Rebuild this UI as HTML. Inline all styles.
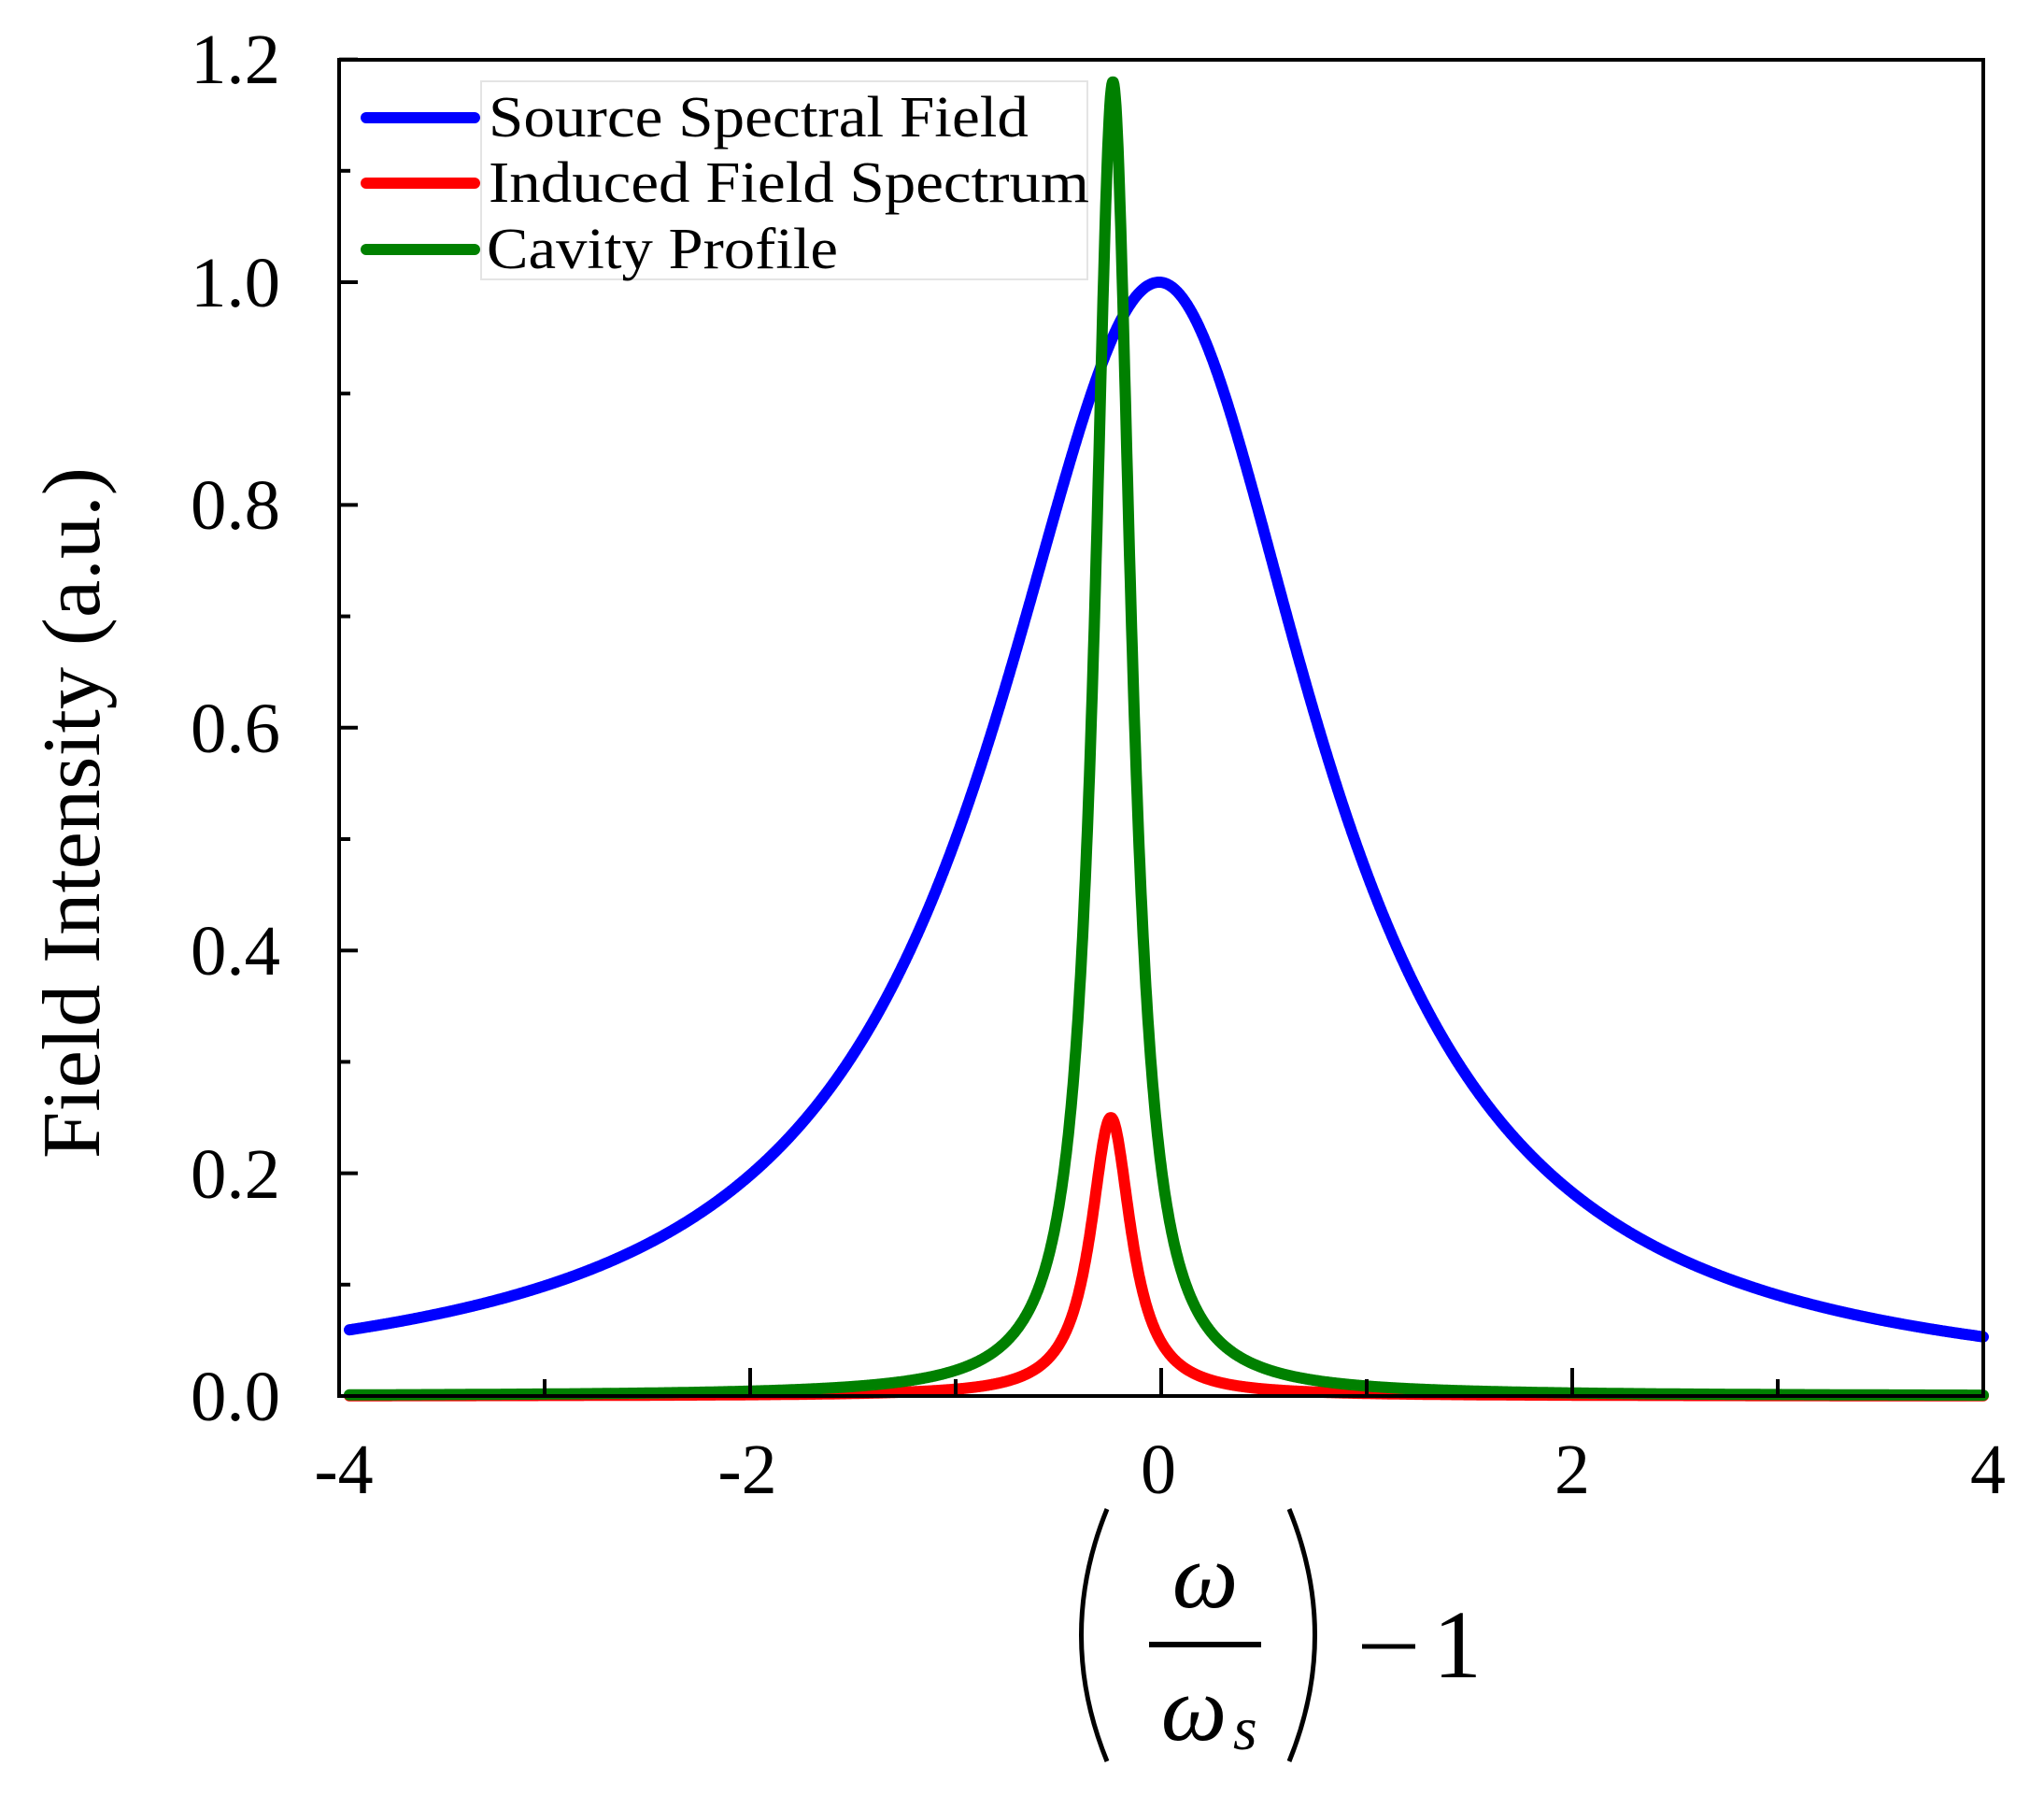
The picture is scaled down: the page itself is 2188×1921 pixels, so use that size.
<!DOCTYPE html>
<html><head><meta charset="utf-8"><style>html,body{margin:0;padding:0;background:#fff}svg{display:block}</style></head>
<body>
<svg id="s" width="2188" height="1921" viewBox="0 0 2188 1921" xmlns="http://www.w3.org/2000/svg" font-family="Liberation Serif, serif">
<g id="curves" fill="none" stroke-width="12" stroke-linejoin="round" stroke-linecap="round"></g>
<rect x="363" y="64" width="1760" height="1430" fill="none" stroke="#000" stroke-width="4"/>
<g id="ticks" stroke="#000" stroke-width="4"></g>
<g font-size="76" text-anchor="end" fill="#000">
<text x="300" y="1520" textLength="96" lengthAdjust="spacingAndGlyphs">0.0</text>
<text x="300" y="1282" textLength="96" lengthAdjust="spacingAndGlyphs">0.2</text>
<text x="300" y="1043" textLength="96" lengthAdjust="spacingAndGlyphs">0.4</text>
<text x="300" y="805" textLength="96" lengthAdjust="spacingAndGlyphs">0.6</text>
<text x="300" y="566" textLength="96" lengthAdjust="spacingAndGlyphs">0.8</text>
<text x="300" y="328" textLength="96" lengthAdjust="spacingAndGlyphs">1.0</text>
<text x="300" y="89" textLength="96" lengthAdjust="spacingAndGlyphs">1.2</text>
</g>
<g font-size="76" text-anchor="middle" fill="#000">
<text x="368" y="1598">-4</text><text x="800" y="1598">-2</text><text x="1240" y="1598">0</text><text x="1683" y="1598">2</text><text x="2128" y="1598">4</text>
</g>
<text transform="translate(106,870) rotate(-90)" font-size="88" text-anchor="middle" textLength="740" lengthAdjust="spacingAndGlyphs">Field Intensity (a.u.)</text>
<rect x="515" y="87" width="649" height="212" fill="#fff" stroke="#e4e4e4" stroke-width="2"/>
<g stroke-width="12" stroke-linecap="round">
<line x1="392" y1="126" x2="508" y2="126" stroke="#0000ff"/>
<line x1="392" y1="196" x2="508" y2="196" stroke="#ff0000"/>
<line x1="392" y1="267" x2="508" y2="267" stroke="#008000"/>
</g>
<g font-size="62" fill="#000">
<text x="523" y="146" textLength="578" lengthAdjust="spacingAndGlyphs">Source Spectral Field</text>
<text x="523" y="216" textLength="643" lengthAdjust="spacingAndGlyphs">Induced Field Spectrum</text>
<text x="521" y="287" textLength="376" lengthAdjust="spacingAndGlyphs">Cavity Profile</text>
</g>
<g fill="#000" font-style="italic">
<path d="M1185 1615 Q1130 1750 1185 1885" fill="none" stroke="#000" stroke-width="5"/>
<path d="M1380 1615 Q1435 1750 1380 1885" fill="none" stroke="#000" stroke-width="5"/>
<text x="1290" y="1720" font-size="100" text-anchor="middle">ω</text>
<line x1="1230" y1="1760" x2="1350" y2="1760" stroke="#000" stroke-width="6"/>
<text x="1278" y="1862" font-size="100" text-anchor="middle">ω</text>
<text x="1320" y="1872" font-size="66">s</text>
</g>
<line x1="1458" y1="1762" x2="1515" y2="1762" stroke="#000" stroke-width="5"/>
<text x="1560" y="1795" font-size="104" text-anchor="middle">1</text>
</svg>
<script>
const X0=363,X1=2123,Y0=1494,Y1=302;
const px=x=>X0+(x+4)/8*(X1-X0), py=y=>Y0+(Y1-Y0)*y;
function path(f){let d='';for(let i=0;i<=2400;i++){const x=-3.95+i*(7.95/2400);d+=(i?'L':'M')+px(x).toFixed(1)+' '+py(f(x)).toFixed(1);}return d;}
const blue=x=>{const c=-0.01;const u=(x-c)/(x<c?0.99:0.95);return 1/(1+u*u);};
const green=x=>{const u=(x+0.235)/0.108;return 1.18/(1+u*u);};
const red=x=>{const u=(x+0.245)/0.12;return 0.25/(1+u*u);};
const g=document.getElementById('curves');
[[blue,'#0000ff'],[red,'#ff0000'],[green,'#008000']].forEach(([f,c])=>{const p=document.createElementNS('http://www.w3.org/2000/svg','path');p.setAttribute('d',path(f));p.setAttribute('stroke',c);g.appendChild(p);});
const t=document.getElementById('ticks');let s='';
for(let i=-4;i<=4;i++){const x=px(i);const L=(i%2===0)?30:18;s+=`<line x1="${x}" y1="${Y0}" x2="${x}" y2="${Y0-L}"/>`;}
for(let k=0;k<=12;k++){const y=py(k/10);const L=(k%2===0)?20:12;s+=`<line x1="${X0}" y1="${y}" x2="${X0+L}" y2="${y}"/>`;}
t.innerHTML=s;
</script>
</body></html>
